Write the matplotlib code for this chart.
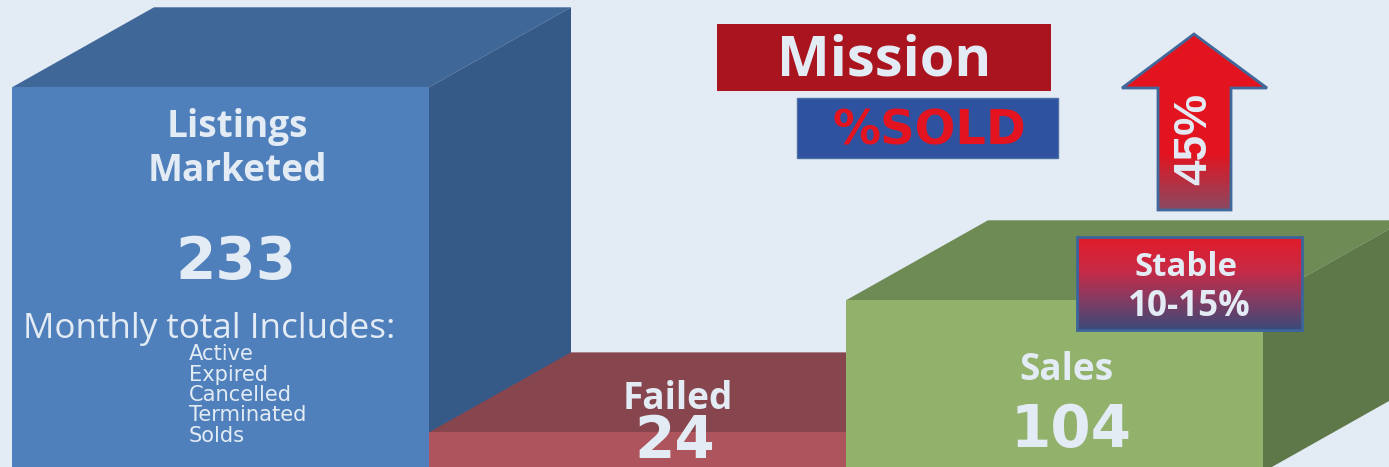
"""Recreate the listings / failed / sales 3D block chart."""

from __future__ import annotations

import matplotlib

matplotlib.use("Agg")

import matplotlib.pyplot as plt
import numpy as np
from matplotlib.colors import LinearSegmentedColormap
from matplotlib.patches import Polygon, Rectangle


WIDTH_PX = 1389
HEIGHT_PX = 467

CATEGORIES = ["Listings Marketed", "Failed", "Sales"]
VALUES = [233, 24, 104]
INCLUDES = ["Active", "Expired", "Cancelled", "Terminated", "Solds"]

FRONT_COLORS = ["#4F80BC", "#AE545C", "#92B26B"]
TOP_COLORS = ["#3F6798", "#87464D", "#6F8B55"]
SIDE_COLORS = ["#365A87", "#74393F", "#5F7849"]

BACKGROUND = "#E3EBF4"
TEXT_COLOR = "#E3EBF4"

# Depth of the fake 3D blocks, in data units
DEPTH_X = 142 / 417
DEPTH_Y = 80 / 1.651


def px(size: float) -> float:
    """Convert a size in pixels to points at 100 dpi."""
    return size * 0.72


def draw_blocks(ax: plt.Axes) -> None:
    """Draw the three blocks from the values, using a bar for each front face."""
    positions = np.arange(len(VALUES))
    ax.bar(positions, VALUES, width=1.0, color=FRONT_COLORS, zorder=2)

    for pos, value, top, side in zip(positions, VALUES, TOP_COLORS, SIDE_COLORS):
        left, right = pos - 0.5, pos + 0.5
        ax.add_patch(Polygon(
            [(left, value), (left + DEPTH_X, value + DEPTH_Y), (right + DEPTH_X, value + DEPTH_Y), (right, value)],
            facecolor=top, edgecolor="none", zorder=1 + pos * 0.1,
        ))
        ax.add_patch(Polygon(
            [(right, 0), (right + DEPTH_X, DEPTH_Y), (right + DEPTH_X, value + DEPTH_Y), (right, value)],
            facecolor=side, edgecolor="none", zorder=1 + pos * 0.1,
        ))


def gradient_fill(ax: plt.Axes, shape: list[tuple[float, float]], colors: list[tuple[float, str]], edge: str) -> None:
    """Fill a polygon with a vertical gradient and outline it."""
    xs = [p[0] for p in shape]
    ys = [p[1] for p in shape]
    cmap = LinearSegmentedColormap.from_list("fill", colors)
    image = ax.imshow(
        np.linspace(0, 1, 256).reshape(-1, 1),
        extent=(min(xs), max(xs), max(ys), min(ys)),
        cmap=cmap, aspect="auto", zorder=3,
    )
    outline = Polygon(shape, facecolor="none", edgecolor=edge, linewidth=2, zorder=4)
    ax.add_patch(outline)
    image.set_clip_path(outline)


def draw_overlay(ax: plt.Axes) -> None:
    """Draw the labels, boxes and arrow in pixel coordinates."""
    ax.add_patch(Rectangle((717, 24), 334, 67, facecolor="#A9141E", edgecolor="none", zorder=3))
    ax.add_patch(Rectangle((797, 98), 261, 60, facecolor="#2F52A0", edgecolor="#4A6FA5", linewidth=1, zorder=3))

    arrow = [(1194, 34), (1267, 88), (1231, 88), (1231, 210), (1158, 210), (1158, 88), (1122, 88)]
    gradient_fill(ax, arrow, [(0, "#E3141F"), (0.68, "#E3141F"), (1, "#8A4A63")], "#41689A")

    box = [(1077, 237), (1302, 237), (1302, 330), (1077, 330)]
    gradient_fill(ax, box, [(0, "#E21B2A"), (0.35, "#C92A45"), (0.65, "#8A3A60"), (1, "#3A4A78")], "#3B659B")

    base = {"color": TEXT_COLOR, "ha": "center", "va": "center", "zorder": 5}
    label = {**base, "family": "Open Sans", "fontweight": "bold"}
    number = {**base, "family": "DejaVu Sans", "fontweight": "bold"}

    ax.text(237, 127, "Listings", fontsize=px(37), **label)
    ax.text(237, 171, "Marketed", fontsize=px(37), **label)
    ax.text(236, 262, str(VALUES[0]), fontsize=px(58), **number)
    ax.text(209, 329, "Monthly total Includes:", fontsize=px(35), color=TEXT_COLOR, ha="center", va="center",
            family="Open Sans", zorder=5)

    for y, name in zip([354, 375, 395, 415, 436], INCLUDES):
        ax.text(189, y, name, fontsize=px(21), color=TEXT_COLOR, ha="left", va="center", family="DejaVu Sans", zorder=5)

    ax.text(678, 399, CATEGORIES[1], fontsize=px(37), **label)
    ax.text(675, 441, str(VALUES[1]), fontsize=px(58), **number)
    ax.text(1066, 370, CATEGORIES[2], fontsize=px(37), **label)
    ax.text(1071, 430, str(VALUES[2]), fontsize=px(58), **number)

    ax.text(884, 61, "Mission", fontsize=px(56), **label)
    ax.text(929, 131, "%SOLD", fontsize=px(48), color="#E3141F", ha="center", va="center",
            family="DejaVu Sans", fontweight="bold", zorder=5)
    ax.text(1194, 139, "45%", fontsize=px(46), rotation=90, color=TEXT_COLOR, ha="center", va="center",
            family="Liberation Sans", fontweight="bold", zorder=5)
    ax.text(1186, 267, "Stable", fontsize=px(33), **label)
    ax.text(1189, 307, "10-15%", fontsize=px(35), **label)


def main() -> None:
    fig = plt.figure(figsize=(WIDTH_PX / 100, HEIGHT_PX / 100), dpi=100, facecolor=BACKGROUND)

    # Blocks: one unit of x is 417 px, one unit of y is 1.651 px, baseline just under the frame
    chart = fig.add_axes((0, 0, 1, 1), facecolor=BACKGROUND)
    draw_blocks(chart)
    chart.set_xlim(-0.5 - 12 / 417, -0.5 + (WIDTH_PX - 12) / 417)
    chart.set_ylim((472 - HEIGHT_PX) / 1.651, 472 / 1.651)
    chart.axis("off")

    overlay = fig.add_axes((0, 0, 1, 1), facecolor="none")
    draw_overlay(overlay)
    overlay.set_xlim(0, WIDTH_PX)
    overlay.set_ylim(HEIGHT_PX, 0)
    overlay.axis("off")

    fig.savefig("out.png", dpi=100, facecolor=BACKGROUND)
    plt.close(fig)


if __name__ == "__main__":
    main()
